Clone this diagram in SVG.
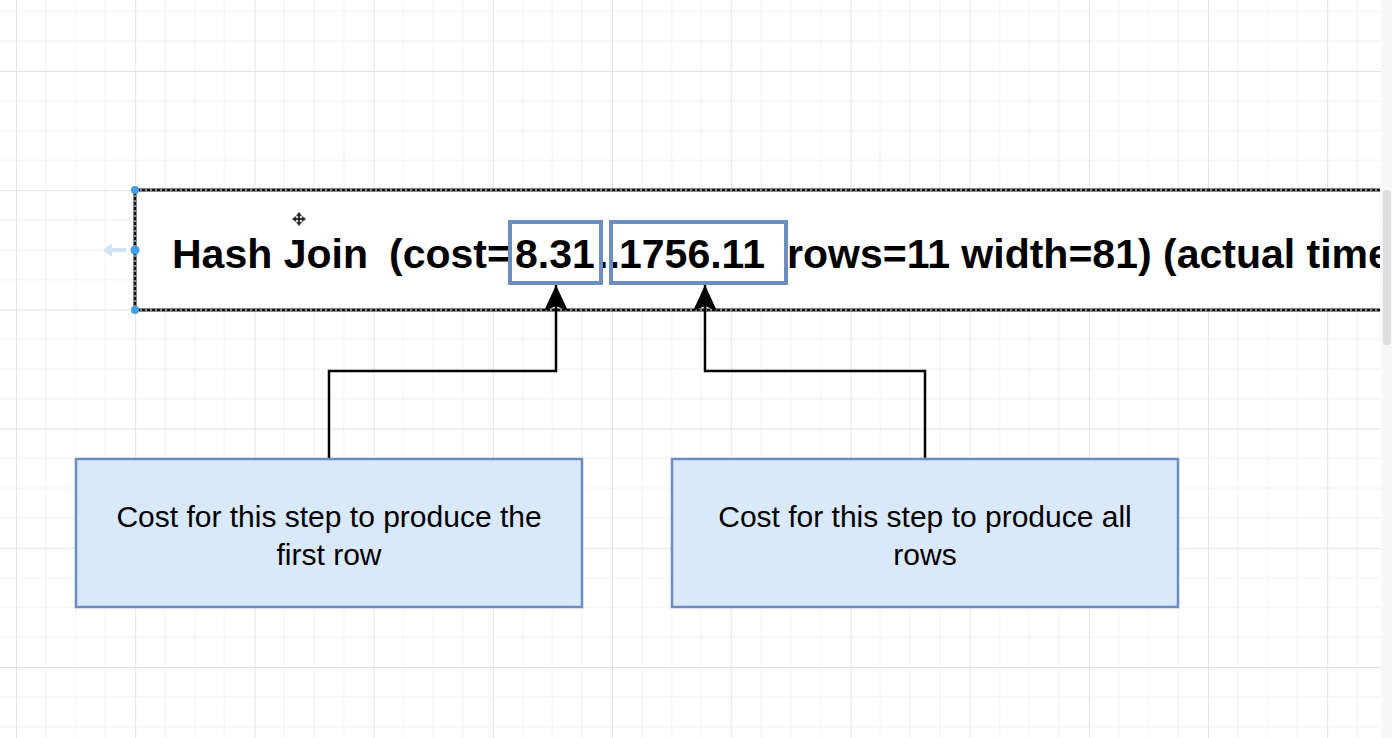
<svg xmlns="http://www.w3.org/2000/svg" width="1392" height="738" viewBox="0 0 1392 738">
  <style>
    .title { font-family: "Liberation Sans", Arial, Helvetica, sans-serif; font-weight: bold; font-size: 41px; fill: #000; }
    .note { font-family: "Liberation Sans", Arial, Helvetica, sans-serif; font-size: 30px; fill: #000; text-anchor: middle; }
    .hl { fill: none; stroke: #6c8ebf; stroke-width: 4; }
    .notebox { fill: #dae8fc; stroke: #6c8ebf; stroke-width: 2.5; }
    .conn { fill: none; stroke: #000; stroke-width: 2.5; }
    .selA { stroke: #111; stroke-width: 3; fill: none; }
    .selB { stroke: #fff; stroke-width: 1; stroke-dasharray: 2 3; fill: none; }
    .handle { fill: #3e9fef; }
  </style>
  <defs>
    <pattern id="grid" patternUnits="userSpaceOnUse" x="16" y="71" width="119.2" height="119.2">
      <path d="M29.8 0V119.2M59.6 0V119.2M89.4 0V119.2M0 29.8H119.2M0 59.6H119.2M0 89.4H119.2" stroke="#f1f1f1" stroke-width="1" fill="none"/>
      <path d="M0.5 0V119.2M0 0.5H119.2" stroke="#e3e3e3" stroke-width="1" fill="none"/>
    </pattern>
    <marker id="arrow" markerUnits="userSpaceOnUse" markerWidth="28" markerHeight="26" viewBox="0 0 28 26" refX="27" refY="13" orient="auto">
      <path d="M27 13 L1 1 L6 13 L1 25 Z" fill="#000"/>
    </marker>
    <clipPath id="clipMain">
      <rect x="135" y="190" width="1245" height="120"/>
    </clipPath>
  </defs>

  <rect x="0" y="0" width="1392" height="738" fill="#fff"/>
  <rect x="0" y="0" width="1392" height="738" fill="url(#grid)"/>
  <rect x="1381" y="0" width="11" height="738" fill="#f7f7f7"/>
  <rect x="1383" y="190" width="8" height="155" rx="4" fill="#dedede"/>

  <g id="main-node">
    <rect x="135" y="190" width="1245" height="120" fill="#fff"/>
    <text class="title" y="268" clip-path="url(#clipMain)"><tspan x="172">Hash Join</tspan><tspan x="389">(cost=</tspan><tspan x="515">8.31</tspan><tspan x="597">..</tspan><tspan x="619">1756.11</tspan><tspan x="787">rows=11 width=81) (actual time=0.245..2.130 rows=11 loops=1)</tspan></text>
    <path class="selA" d="M135 190H1380M135 310H1380M135 190V310"/>
    <path class="selB" d="M135 190H1380M135 310H1380M135 190V310"/>
    <circle class="handle" cx="135" cy="190" r="4"/>
    <circle class="handle" cx="135" cy="250" r="4.5"/>
    <circle class="handle" cx="135" cy="310" r="4"/>
    <path d="M103 250 L112 243 L112 248 L126 248 L126 252 L112 252 L112 257 Z" fill="#d2e5f7"/>
    <path d="M299 212 L302 216 L300 216 L300 218 L302 218 L302 216 L306 219 L302 222 L302 220 L300 220 L300 222 L302 222 L299 226 L296 222 L298 222 L298 220 L296 220 L296 222 L292 219 L296 216 L296 218 L298 218 L298 216 L296 216 Z" fill="#222" stroke="#999" stroke-width="0.5"/>
  </g>

  <g id="highlight-startup">
    <rect class="hl" x="510" y="222" width="91" height="61"/>
  </g>
  <g id="highlight-total">
    <rect class="hl" x="611" y="222" width="175" height="61"/>
  </g>

  <g id="connectors">
    <path class="conn" d="M329 458V371H556V285" marker-end="url(#arrow)"/>
    <path class="conn" d="M925 458V371H705V285" marker-end="url(#arrow)"/>
  </g>

  <g id="note-first-row">
    <rect class="notebox" x="76" y="459" width="506" height="148"/>
    <text class="note" x="329" y="527">Cost for this step to produce the</text>
    <text class="note" x="329" y="565">first row</text>
  </g>

  <g id="note-all-rows">
    <rect class="notebox" x="672" y="459" width="506" height="148"/>
    <text class="note" x="925" y="527">Cost for this step to produce all</text>
    <text class="note" x="925" y="565">rows</text>
  </g>
</svg>
